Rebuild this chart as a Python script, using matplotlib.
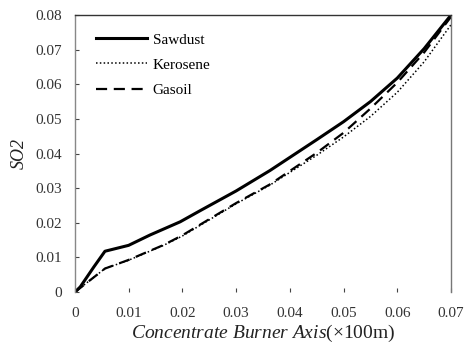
import matplotlib
matplotlib.use("Agg")
import matplotlib.pyplot as plt

plt.rcParams['font.family'] = ['Liberation Serif', 'DejaVu Serif']
plt.rcParams['mathtext.fontset'] = 'custom'
plt.rcParams['mathtext.rm'] = 'Liberation Serif'
plt.rcParams['mathtext.it'] = 'Liberation Serif:italic'

saw_x = [0, 0.001, 0.0035, 0.0056, 0.01, 0.014, 0.0196, 0.0233, 0.03, 0.0363, 0.045, 0.05, 0.055, 0.06, 0.065, 0.07]
saw_y = [0, 0.0015, 0.0072, 0.0118, 0.0135, 0.0165, 0.0203, 0.0235, 0.0292, 0.0351, 0.0440, 0.0492, 0.0550, 0.0618, 0.0703, 0.0800]

ker_x = [0, 0.0056, 0.01, 0.0165, 0.02, 0.03, 0.0363, 0.045, 0.05, 0.055, 0.06, 0.065, 0.07]
ker_y = [0, 0.0068, 0.0092, 0.0135, 0.0162, 0.0255, 0.0309, 0.0395, 0.0448, 0.0507, 0.0577, 0.0665, 0.0772]

gas_x = [0, 0.0056, 0.01, 0.0165, 0.02, 0.03, 0.0363, 0.045, 0.05, 0.055, 0.06, 0.065, 0.07]
gas_y = [0, 0.0068, 0.0093, 0.0136, 0.0164, 0.0257, 0.0311, 0.0402, 0.0460, 0.0530, 0.0605, 0.0692, 0.0795]

xticks = [0, 0.01, 0.02, 0.03, 0.04, 0.05, 0.06, 0.07]
xticklabels = ['0', '0.01', '0.02', '0.03', '0.04', '0.05', '0.06', '0.07']
yticks = [0, 0.01, 0.02, 0.03, 0.04, 0.05, 0.06, 0.07, 0.08]
yticklabels = ['0', '0.01', '0.02', '0.03', '0.04', '0.05', '0.06', '0.07', '0.08']

fig = plt.figure(figsize=(4.65, 3.49), dpi=100)
ax = fig.add_axes([0.161, 0.163, 0.809, 0.794])

ax.plot(saw_x, saw_y, color='black', lw=2.2, ls='-', label='Sawdust')
ax.plot(ker_x, ker_y, color='black', lw=1.1, ls=(0, (1, 1.5)), label='Kerosene')
ax.plot(gas_x, gas_y, color='black', lw=1.6, ls=(0, (5, 3)), label='Gasoil')

ax.set_xlim(0, 0.07)
ax.set_ylim(0, 0.08)
ax.set_xticks(xticks)
ax.set_xticklabels(xticklabels)
ax.set_yticks(yticks)
ax.set_yticklabels(yticklabels)
ax.tick_params(axis='both', direction='in', length=3, width=0.8, colors='#444444',
               labelsize=11, labelcolor='#333333')
ax.tick_params(axis='x', pad=11)
ax.tick_params(axis='y', pad=9)

ax.spines['bottom'].set_visible(False)
ax.spines['left'].set_color('#888888')
ax.spines['right'].set_color('#777777')
ax.spines['top'].set_color('#333333')
for s in ax.spines.values():
    s.set_linewidth(1.0)

ax.set_xlabel(r'$\mathit{Concentrate\ Burner\ Axis}$(×100m)', fontsize=14, color='#222222', labelpad=2)
ax.set_ylabel('SO2', fontsize=13, style='italic', color='#222222', labelpad=6)

leg = ax.legend(loc='upper left', frameon=False, fontsize=11, handlelength=3.3,
                bbox_to_anchor=(0.02, 0.985), labelspacing=0.75, handletextpad=0.4)

fig.savefig('out.png', dpi=100)
